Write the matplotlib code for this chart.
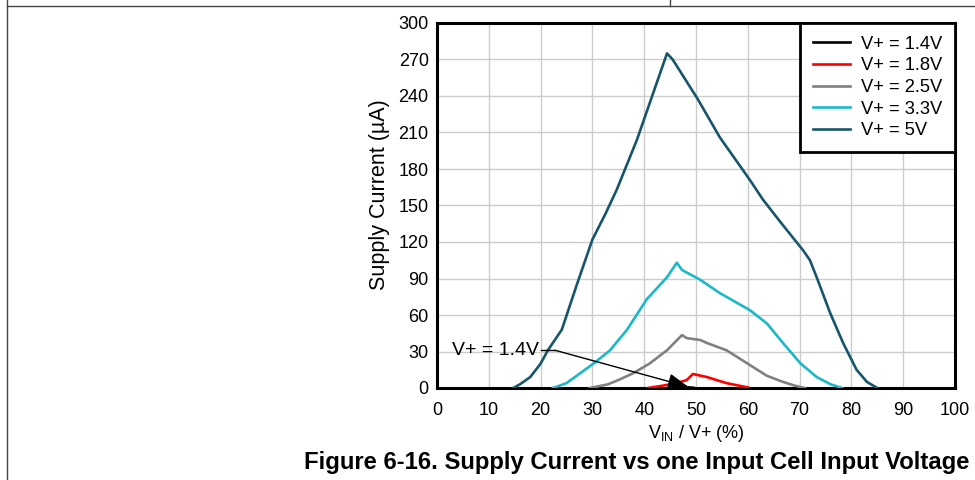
import matplotlib
matplotlib.use('Agg')
import matplotlib.pyplot as plt
from matplotlib.lines import Line2D

plt.rcParams['font.family'] = ['Liberation Sans', 'DejaVu Sans']

# data (x = VIN / V+ in %, y = supply current in uA)
x_14 = [45.0, 46.5, 48.0, 49.5]
y_14 = [0.0, 0.4, 0.7, 0.2]

x_18 = [40.7, 43.0, 45.0, 47.0, 48.2, 49.4, 50.5, 52.1, 55.9, 60.0]
y_18 = [0.0, 1.5, 3.0, 5.0, 6.5, 11.5, 10.5, 9.0, 4.0, 0.5]

x_25 = [29.5, 33.0, 35.0, 37.8, 41.0, 44.4, 47.3, 48.2, 50.8, 52.1, 55.9, 59.8, 63.7, 66.8, 69.0, 71.0]
y_25 = [0.0, 3.0, 6.5, 12.0, 20.0, 31.0, 43.5, 41.0, 39.5, 37.0, 31.0, 20.5, 10.0, 5.0, 2.0, 0.0]

x_33 = [22.4, 25.0, 27.6, 30.5, 33.4, 36.7, 40.5, 44.4, 46.3, 47.3, 50.8, 54.6, 60.4, 63.7, 66.8, 70.1, 73.3, 76.0, 78.2]
y_33 = [0.0, 4.0, 12.0, 21.0, 31.0, 48.0, 73.0, 91.0, 103.0, 97.0, 89.0, 78.0, 64.0, 53.0, 37.0, 20.5, 9.0, 3.0, 0.0]

x_5 = [14.7, 16.0, 18.0, 20.0, 21.4, 24.1, 27.0, 30.0, 32.5, 34.7, 38.6, 41.7, 44.4, 45.5, 50.4,
       54.6, 60.4, 62.9, 66.0, 70.7, 72.0, 73.3, 75.9, 78.4, 81.0, 83.0, 85.0]
y_5 = [0.0, 3.0, 9.0, 20.0, 31.0, 48.0, 85.0, 122.0, 143.0, 163.0, 204.0, 242.0, 275.0, 270.0, 237.0,
       206.0, 171.0, 155.0, 138.0, 113.0, 105.0, 91.0, 61.6, 37.0, 15.0, 5.0, 0.0]

labels = ['V+ = 1.4V', 'V+ = 1.8V', 'V+ = 2.5V', 'V+ = 3.3V', 'V+ = 5V']
colors = ['#000000', '#ff0000', '#808080', '#1ab8c8', '#17566a']

# annotation for the hidden 1.4V trace
note_text = (19.7, 31.0)
note_knee = (22.8, 31.0)
note_tip = (48.5, 1.0)

fig = plt.figure(figsize=(9.75, 4.8), dpi=100)
ax = fig.add_axes([437 / 975, 1 - 388 / 480, 518 / 975, 365 / 480])

series = [(x_14, y_14), (x_18, y_18), (x_25, y_25), (x_33, y_33), (x_5, y_5)]
for (xs, ys), lab, col in zip(series, labels, colors):
    ax.plot(xs, ys, color=col, lw=1.9, label=lab, zorder=3)

ax.set_xlim(0, 100)
ax.set_ylim(0, 300)
ax.set_xticks(range(0, 101, 10))
ax.set_yticks(range(0, 301, 30))
ax.grid(True, color='#cccccc', lw=1.0)
ax.set_axisbelow(True)
ax.tick_params(length=0, labelsize=13)
ax.tick_params(axis='x', pad=10)
ax.tick_params(axis='y', pad=6)
for sp in ax.spines.values():
    sp.set_linewidth(2.2)
    sp.set_color('black')

ax.set_xlabel(r'V$_{\mathregular{IN}}$ / V+ (%)', fontsize=13, labelpad=3)
ax.set_ylabel('Supply Current (µA)', fontsize=15.5)
ax.yaxis.set_label_coords(-0.09, 0.53)

leg = ax.legend(loc='upper right', borderaxespad=0, fontsize=13.2, fancybox=False,
                framealpha=1, edgecolor='black', handlelength=2.0, labelspacing=0.25,
                borderpad=0.7, handletextpad=0.6)
leg.get_frame().set_linewidth(2.0)

ax.text(note_text[0], note_text[1], 'V+ = 1.4V', fontsize=14, ha='right', va='center')
ax.plot([note_text[0] + 0.3, note_knee[0]], [note_knee[1], note_knee[1]], color='black', lw=1.0, zorder=4)
ax.annotate('', xy=note_tip, xytext=note_knee,
            arrowprops=dict(arrowstyle='-|>,head_length=0.9,head_width=0.35', color='black',
                            lw=1.0, mutation_scale=14, shrinkA=0, shrinkB=0), zorder=5)

fig.text(970 / 975, 1 - 462 / 480, 'Figure 6-16. Supply Current vs one Input Cell Input Voltage',
         fontsize=17.2, fontweight='bold', ha='right', va='center')

# page frame lines
fig.add_artist(Line2D([7 / 975, 1], [1 - 6 / 480] * 2, color='#444444', lw=1.0))
fig.add_artist(Line2D([7 / 975] * 2, [0, 1], color='#444444', lw=1.0))
fig.add_artist(Line2D([670 / 975] * 2, [1 - 6 / 480, 1], color='#444444', lw=1.0))

fig.savefig('out.png', dpi=100)
